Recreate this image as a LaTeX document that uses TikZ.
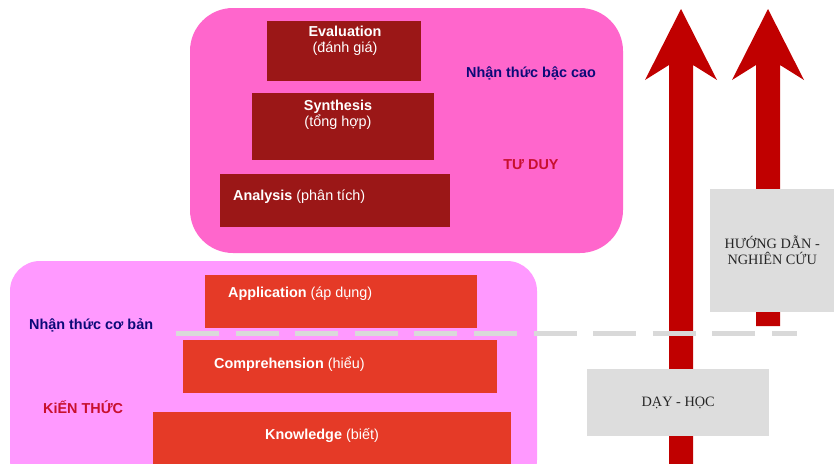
\documentclass[tikz,border=0pt]{standalone}
\usepackage{fontspec}
\setmainfont{Liberation Sans}
\newfontfamily\seriffont{Liberation Serif}
\definecolor{pinkhi}{HTML}{FF66CC}
\definecolor{pinklo}{HTML}{FF99FF}
\definecolor{darkred}{HTML}{9B1717}
\definecolor{brightred}{HTML}{E53A27}
\definecolor{arrowred}{HTML}{C00000}
\definecolor{boxgray}{HTML}{DDDDDD}
\definecolor{dashgray}{HTML}{D9D9D9}
\definecolor{navytext}{HTML}{0A0A78}
\definecolor{crimsontext}{HTML}{C8102E}
\begin{document}
\begin{tikzpicture}[x=1pt,y=-1pt,
  lvlbox/.style={rectangle,draw=none,inner sep=0pt,anchor=north west},
  lbl/.style={inner sep=0pt,text=white,font=\fontsize{14.4}{16}\selectfont},
  side/.style={inner sep=0pt,font=\fontsize{14.4}{16}\selectfont\bfseries},
  graybox/.style={rectangle,fill=boxgray,draw=none,inner sep=0pt,anchor=north west,
    align=center,font=\seriffont\fontsize{14.3}{16}\selectfont,text=black!85},
  bigarrow/.style={fill=arrowred,draw=none},
  dashline/.style={draw=dashgray,line width=5pt,dash pattern=on 43pt off 16.6pt}
]
\clip (0,0) rectangle (835,463);
\fill[white] (0,0) rectangle (835,463);

% panels
\fill[pinkhi,rounded corners=43pt] (190,8) rectangle (623,253);
\fill[pinklo,rounded corners=30pt] (10,261) rectangle (537,490);

% higher-level boxes
\node[lvlbox,fill=darkred,minimum width=154pt,minimum height=60pt] (eval) at (267,21) {};
\node[lvlbox,fill=darkred,minimum width=182pt,minimum height=67pt] (synth) at (252,93) {};
\node[lvlbox,fill=darkred,minimum width=230pt,minimum height=53pt] (anal) at (220,174) {};

% lower-level boxes
\node[lvlbox,fill=brightred,minimum width=272pt,minimum height=53pt] (appl) at (205,275) {};
\node[lvlbox,fill=brightred,minimum width=314pt,minimum height=53pt] (comp) at (183,340) {};
\node[lvlbox,fill=brightred,minimum width=358pt,minimum height=60pt] (know) at (153,412) {};

% box labels
\node[lbl,anchor=base] (evalA) at (345,36) {\bfseries Evaluation};
\node[lbl,anchor=base] (evalB) at (345,52) {(đánh giá)};
\node[lbl,anchor=base] (synA) at (338,110) {\bfseries Synthesis};
\node[lbl,anchor=base] (synB) at (338,126) {(tổng hợp)};
\node[lbl,anchor=base west] (anlA) at (233,200) {\textbf{Analysis} (phân tích)};
\node[lbl,anchor=base west] (appA) at (228,297.5) {\textbf{Application} (áp dụng)};
\node[lbl,anchor=base west] (cmpA) at (214,368) {\textbf{Comprehension} (hiểu)};
\node[lbl,anchor=base west] (knwA) at (265,439) {\textbf{Knowledge} (biết)};

% side labels
\node[side,text=navytext,anchor=base west] (nhcao) at (466,77) {Nhận thức bậc cao};
\node[side,text=crimsontext,anchor=base] (tuduy) at (531,169) {TƯ DUY};
\node[side,text=navytext,anchor=base west] (nhcb) at (29,329) {Nhận thức cơ bản};
\node[side,text=crimsontext,anchor=base west] (kienthuc) at (43,413) {KiẾN THỨC};

% arrows
\coordinate (tipL) at (681,9);
\coordinate (tipR) at (768,9);
\fill[bigarrow] (669,470) -- (669,65) -- (645,80) -- (tipL) -- (717,80) -- (693,65) -- (693,470) -- cycle;
\fill[bigarrow] (756,326) -- (756,65) -- (732,80) -- (tipR) -- (804,80) -- (780,65) -- (780,326) -- cycle;

% gray boxes
\node[graybox,minimum width=124pt,minimum height=123pt] (huongdan) at (710,189) {HƯỚNG DẪN -\\NGHIÊN CỨU};
\node[graybox,minimum width=182pt,minimum height=67pt] (dayhoc) at (587,369) {DẠY - HỌC};

% dashed divider
\coordinate (dashA) at (176,333.5);
\coordinate (dashB) at (797,333.5);
\draw[dashline] (dashA) -- (dashB);
\end{tikzpicture}
\end{document}
